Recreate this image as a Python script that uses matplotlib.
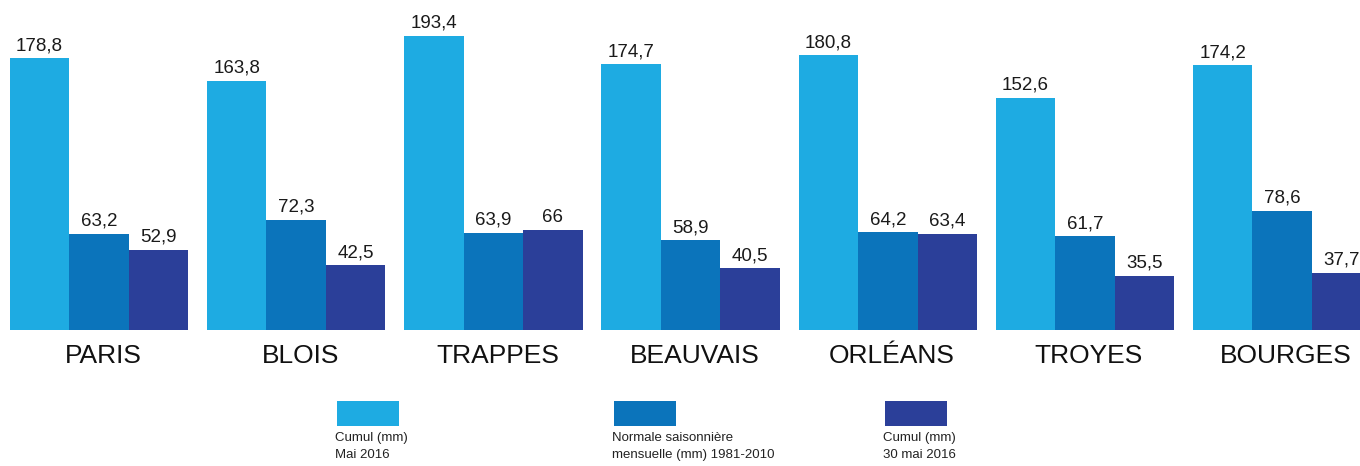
import matplotlib
matplotlib.use("Agg")
from matplotlib import pyplot as plt
from matplotlib.patches import Rectangle
import numpy as np

plt.rcParams['font.family'] = ['Liberation Sans', 'DejaVu Sans']

villes = ['PARIS', 'BLOIS', 'TRAPPES', 'BEAUVAIS', 'ORLÉANS', 'TROYES', 'BOURGES']
cumul_mai = [178.8, 163.8, 193.4, 174.7, 180.8, 152.6, 174.2]
normale = [63.2, 72.3, 63.9, 58.9, 64.2, 61.7, 78.6]
cumul_30mai = [52.9, 42.5, 66, 40.5, 63.4, 35.5, 37.7]

series = [cumul_mai, normale, cumul_30mai]
couleurs = ['#1EABE2', '#0B74BB', '#2B3F99']
legende = ['Cumul (mm)\nMai 2016',
           'Normale saisonnière\nmensuelle (mm) 1981-2010',
           'Cumul (mm)\n30 mai 2016']

W, H = 1360, 466
fig = plt.figure(figsize=(W / 100, H / 100), dpi=100)
ax = fig.add_axes([0, 0, 1, 1])

pitch = 197.2      # px between groups
bar_px = 59.5      # px per bar
base_px = 136      # baseline, px from bottom
px_per_mm = 1.52

bw = bar_px / pitch
x0 = 99 / pitch
ax.set_xlim(-x0, (W - 99) / pitch)
ax.set_ylim(-base_px / px_per_mm, (H - base_px) / px_per_mm)
ax.axis('off')

x = np.arange(len(villes))
for k, (vals, col) in enumerate(zip(series, couleurs)):
    pos = x + (k - 1) * bw
    ax.bar(pos, vals, width=bw, color=col, linewidth=0)
    for xi, v in zip(pos, vals):
        txt = ('%g' % v).replace('.', ',')
        ax.annotate(txt, (xi, v), xytext=(0, 3), textcoords='offset points',
                    ha='center', va='bottom', fontsize=13.5, color='#1a1a1a')

for xi, v in zip(x, villes):
    ax.text(xi + 0.02, -26 / px_per_mm, v, ha='center', va='center', fontsize=19, color='#111111')

# legende en bas
leg_x = [337, 614, 885]
for lx, col, lab in zip(leg_x, couleurs, legende):
    fig.patches.append(Rectangle((lx / W, (H - 426) / H), 62 / W, 25 / H,
                                 transform=fig.transFigure, color=col, linewidth=0))
    fig.text((lx - 2) / W, (H - 432) / H, lab, ha='left', va='top', fontsize=9.5,
             color='#222222', linespacing=1.55)

fig.savefig('out.png', dpi=100)
